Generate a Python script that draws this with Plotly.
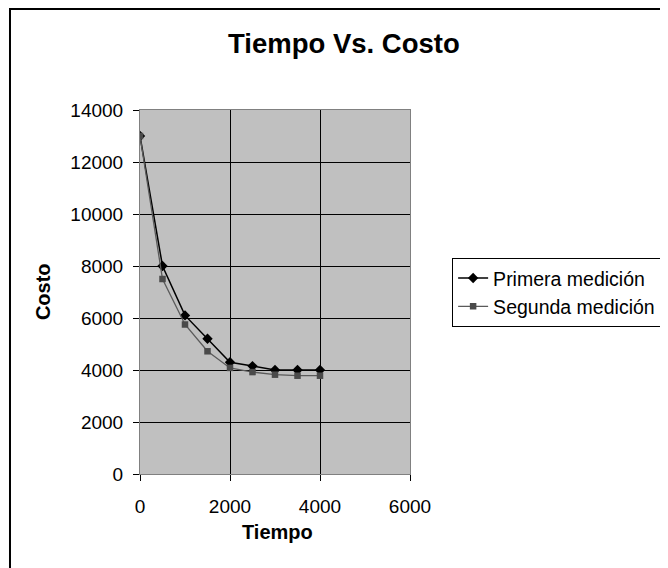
import plotly.graph_objects as go

tiempo = [0, 500, 1000, 1500, 2000, 2500, 3000, 3500, 4000]
primera = [13000, 8000, 6100, 5200, 4300, 4150, 4000, 4000, 4000]
segunda = [13000, 7500, 5750, 4720, 4080, 3920, 3820, 3780, 3780]
x_ticks = [0, 2000, 4000, 6000]
y_ticks = [0, 2000, 4000, 6000, 8000, 10000, 12000, 14000]

FONT = "Liberation Sans, Arial, sans-serif"

fig = go.Figure()
fig.add_trace(go.Scatter(
    x=tiempo, y=primera, mode="lines+markers", name="Primera medición",
    line=dict(color="#000000", width=1.5),
    marker=dict(symbol="diamond", size=8, color="#000000"),
))
fig.add_trace(go.Scatter(
    x=tiempo, y=segunda, mode="lines+markers", name="Segunda medición",
    line=dict(color="#5a5a5a", width=1.3),
    marker=dict(symbol="square", size=6.5, color="#4a4a4a"),
))

fig.update_layout(
    width=668, height=568,
    margin=dict(l=132, r=266, t=102, b=102),
    paper_bgcolor="white", plot_bgcolor="#c0c0c0",
    font=dict(family=FONT, size=19, color="black"),
    showlegend=True,
    legend=dict(
        x=1.156, y=0.594, xanchor="left", yanchor="top",
        bordercolor="black", borderwidth=1, bgcolor="white",
        font=dict(family=FONT, size=19.5, color="black"),
        tracegroupgap=0, entrywidth=230,
    ),
    xaxis=dict(
        range=[0, 6000], tickvals=x_ticks, ticktext=[str(v) for v in x_ticks],
        showgrid=True, gridcolor="black", gridwidth=1,
        zeroline=False, showline=True, linecolor="#808080", linewidth=1, mirror=True,
        ticks="outside", ticklen=6, tickcolor="black",
        ticklabelstandoff=9,
    ),
    yaxis=dict(
        range=[0, 14000], tickvals=y_ticks, ticktext=[str(v) for v in y_ticks],
        showgrid=True, gridcolor="black", gridwidth=1,
        zeroline=False, showline=True, linecolor="#808080", linewidth=1, mirror=True,
        ticks="outside", ticklen=6, tickcolor="black",
        ticklabelstandoff=6,
    ),
    annotations=[
        dict(text="<b>Tiempo Vs. Costo</b>", xref="paper", yref="paper",
             x=0.756, y=1.183, xanchor="center", yanchor="middle",
             showarrow=False, font=dict(family=FONT, size=27.5, color="black")),
        dict(text="<b>Tiempo</b>", xref="paper", yref="paper",
             x=0.511, y=-0.159, xanchor="center", yanchor="middle",
             showarrow=False, font=dict(family=FONT, size=20, color="black")),
        dict(text="<b>Costo</b>", xref="paper", yref="paper",
             x=-0.359, y=0.5, xanchor="center", yanchor="middle", textangle=-90,
             showarrow=False, font=dict(family=FONT, size=20, color="black")),
    ],
    shapes=[
        dict(type="rect", xref="paper", yref="paper",
             x0=-0.4815, y0=1.2775, x1=2.2, y1=-0.35,
             line=dict(color="black", width=2), fillcolor="rgba(0,0,0,0)", layer="below"),
    ],
)

fig.write_html("out.html")
